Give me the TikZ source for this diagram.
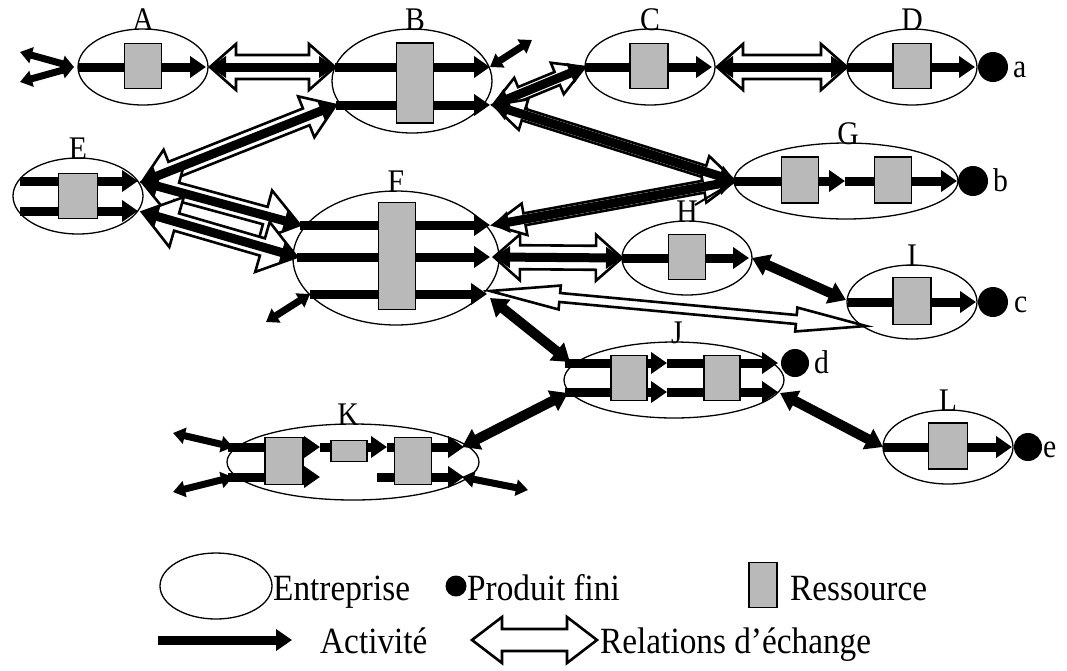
\documentclass[tikz,border=0pt]{standalone}
\usepackage{fontspec}
\setmainfont{Liberation Serif}
\newfontfamily\legfont{Liberation Serif}[FakeStretch=0.9]
\usetikzlibrary{shapes.geometric,arrows.meta,calc}
\tikzset{
  ent/.style={ellipse, draw, line width=1.3pt, inner sep=0pt},
  res/.style={rectangle, draw, fill=gray!55, line width=1.6pt, inner sep=0pt},
  pf/.style={circle, fill=black, inner sep=0pt},
  act/.style={line width=9pt, >={Triangle[length=16pt,width=21pt]}, ->},
  actd/.style={act, <->},
  acts/.style={line width=7pt, >={Triangle[length=12pt,width=16pt]}, <->},
  actb/.style={line width=10pt, >={Triangle[length=17pt,width=22pt]}, <->},
  xchs/.style={draw=black, fill=white, line width=2.6pt, line join=miter},
  lab/.style={font=\legfont\fontsize{33}{33}\selectfont, inner sep=0pt, anchor=base},
  pl/.style={font=\legfont\fontsize{33}{33}\selectfont, inner sep=0pt, anchor=base west},
  leg/.style={font=\legfont\fontsize{37}{37}\selectfont, inner sep=0pt, anchor=base west},
  thin/.style={line width=2pt},
}
% hollow double arrow: from, to, shaft half width, head half width, head length
\newcommand\xch[5]{%
  \draw[xchs] (#1)
    -- ($($(#1)!#5!(#2)$)!#4!90:(#2)$)
    -- ($($(#1)!#5!(#2)$)!#3!90:(#2)$)
    -- ($($(#2)!#5!(#1)$)!#3!90:(#2)$)
    -- ($($(#2)!#5!(#1)$)!#4!90:(#2)$)
    -- (#2)
    -- ($($(#2)!#5!(#1)$)!#4!-90:(#2)$)
    -- ($($(#2)!#5!(#1)$)!#3!-90:(#2)$)
    -- ($($(#1)!#5!(#2)$)!#3!-90:(#2)$)
    -- ($($(#1)!#5!(#2)$)!#4!-90:(#2)$)
    -- cycle;}
\begin{document}
\begin{tikzpicture}[x=1pt,y=-1pt]
\useasboundingbox (0,0) rectangle (1067,670);

% ---------- enterprises ----------
\node[ent, minimum width=130pt, minimum height=76pt] (A) at (143,67) {};
\node[ent, minimum width=160pt, minimum height=104pt] (B) at (412,81) {};
\node[ent, minimum width=130pt, minimum height=76pt] (C) at (650,67) {};
\node[ent, minimum width=130pt, minimum height=76pt] (D) at (912,67) {};
\node[ent, minimum width=130pt, minimum height=76pt] (E) at (78,196) {};
\node[ent, minimum width=206pt, minimum height=134pt] (F) at (396,258) {};
\node[ent, minimum width=224pt, minimum height=76pt] (G) at (846,181) {};
\node[ent, minimum width=130pt, minimum height=74pt] (H) at (687,258) {};
\node[ent, minimum width=130pt, minimum height=74pt] (I) at (912,302) {};
\node[ent, minimum width=220pt, minimum height=76pt] (J) at (674,380) {};
\node[ent, minimum width=252pt, minimum height=76pt] (K) at (353,462) {};
\node[ent, minimum width=130pt, minimum height=74pt] (L) at (948,447) {};

% ---------- ports ----------
\coordinate (Al) at (78,67);   \coordinate (Ar) at (206,67);
\coordinate (Ax1) at (20,52);  \coordinate (Ax2) at (20,82);  \coordinate (Aj) at (74,67);
\coordinate (ABa) at (210,67); \coordinate (ABb) at (335,67);
\coordinate (B1l) at (335,67); \coordinate (B1r) at (490,67);
\coordinate (B2l) at (336,105);\coordinate (B2r) at (490,105);
\coordinate (Bx) at (532,40);  \coordinate (B2o) at (493,105);
\coordinate (Cl) at (585,67);  \coordinate (Cr) at (712,67);
\coordinate (CDa) at (717,67); \coordinate (CDb) at (847,67);
\coordinate (Dl) at (847,67);  \coordinate (Dr) at (975,67);
\coordinate (E1l) at (20,181); \coordinate (E1r) at (138,181);
\coordinate (E2l) at (20,211); \coordinate (E2r) at (138,211);
\coordinate (E1o) at (142,182);\coordinate (E2o) at (142,212);
\coordinate (F1l) at (300,225);\coordinate (F1r) at (490,225);
\coordinate (F2l) at (297,257);\coordinate (F2r) at (490,257);
\coordinate (F3l) at (310,294);\coordinate (F3r) at (487,294);
\coordinate (F1o) at (493,225);\coordinate (F2o) at (494,257);
\coordinate (F3o) at (490,291);\coordinate (F3j) at (490,298);
\coordinate (Fx) at (266,322);
\coordinate (Gl) at (735,181); \coordinate (Gm) at (845,181); \coordinate (Gr) at (957,181);
\coordinate (Hl) at (622,258); \coordinate (Hr) at (749,258);
\coordinate (Ho) at (752,258);
\coordinate (Il) at (848,302); \coordinate (Ir) at (976,302);
\coordinate (Iin) at (846,300);\coordinate (Io) at (866,326);
\coordinate (J1l) at (565,363);\coordinate (J1m) at (667,363);\coordinate (J1r) at (778,363);
\coordinate (J2l) at (565,392);\coordinate (J2m) at (667,392);\coordinate (J2r) at (778,392);
\coordinate (J1o) at (570,362);\coordinate (J2o) at (568,393);\coordinate (J2e) at (780,393);
\coordinate (K1l) at (228,447);\coordinate (K1a) at (320,447);\coordinate (K1b) at (387,447);\coordinate (K1r) at (464,447);
\coordinate (K2l) at (228,477);\coordinate (K2a) at (320,477);\coordinate (K2s) at (377,477);\coordinate (K2r) at (464,477);
\coordinate (K1o) at (462,447);
\coordinate (Kx1) at (173,433); \coordinate (Kx2) at (173,492); \coordinate (Kx3) at (528,490);
\coordinate (K1j) at (233,447); \coordinate (K2j) at (233,477); \coordinate (K2o) at (462,477);
\coordinate (Ll) at (883,447); \coordinate (Lr) at (1012,447);

% ---------- exchange relations ----------
\xch{ABa}{ABb}{12pt}{23pt}{26pt}
\xch{CDa}{CDb}{12pt}{23pt}{26pt}
\xch{F2o}{Hl}{12pt}{23pt}{26pt}
\xch{E1o}{B2l}{9pt}{22pt}{32pt}
\xch{E1o}{F1l}{9pt}{26pt}{36pt}
\xch{E2o}{F2l}{9pt}{26pt}{36pt}
\xch{B2o}{Cl}{7pt}{17pt}{30pt}
\xch{B2o}{Gl}{6pt}{16pt}{32pt}
\xch{Gl}{F1o}{6pt}{16pt}{32pt}
\xch{Io}{F3o}{4.5pt}{12pt}{70pt}
\draw[thin] (695,205) -- (Gl);

% ---------- activities ----------
\draw[act] (Al) -- (Ar);
\draw[acts] (Ax1) -- (Aj);
\draw[acts] (Ax2) -- (Aj);
\draw[actd] (ABa) -- (ABb);
\draw[act] (B1l) -- (B1r);
\draw[act] (B2l) -- (B2r);
\draw[acts] (B1r) -- (Bx);
\draw[act] (Cl) -- (Cr);
\draw[actd] (CDa) -- (CDb);
\draw[act] (Dl) -- (Dr);
\draw[act] (E1l) -- (E1r);
\draw[act] (E2l) -- (E2r);
\draw[actd] (E1o) -- (B2l);
\draw[actd] (E1o) -- (F1l);
\draw[actd] (E2o) -- (F2l);
\draw[actd] (B2o) -- (Cl);
\draw[actd] (B2o) -- (Gl);
\draw[actd] (Gl) -- (F1o);
\draw[act] (F1l) -- (F1r);
\draw[act] (F2l) -- (F2r);
\draw[act] (F3l) -- (F3r);
\draw[acts] (F3l) -- (Fx);
\draw[actd] (F2o) -- (Hl);
\draw[act] (Gl) -- (Gm);
\draw[act] (Gm) -- (Gr);
\draw[act] (Hl) -- (Hr);
\draw[actb] (Ho) -- (Iin);
\draw[act] (Il) -- (Ir);
\draw[actb] (F3j) -- (J1o);
\draw[act] (J1l) -- (J1m);
\draw[act] (J1m) -- (J1r);
\draw[act] (J2l) -- (J2m);
\draw[act] (J2m) -- (J2r);
\draw[actb] (J2o) -- (K1o);
\draw[actb] (J2e) -- (Ll);
\draw[act] (Ll) -- (Lr);
\draw[act] (K1l) -- (K1a);
\draw[act] (K1a) -- (K1b);
\draw[act] (K1b) -- (K1r);
\draw[act] (K2l) -- (K2a);
\draw[act] (K2s) -- (K2r);
\draw[acts] (Kx1) -- (K1j);
\draw[acts] (Kx2) -- (K2j);
\draw[acts] (K2o) -- (Kx3);

% ---------- resources ----------
\node[res, minimum width=37pt, minimum height=45pt] (rA) at (143,66) {};
\node[res, minimum width=37pt, minimum height=80pt] (rB) at (415,83) {};
\node[res, minimum width=38pt, minimum height=45pt] (rC) at (649,66) {};
\node[res, minimum width=38pt, minimum height=45pt] (rD) at (912,66) {};
\node[res, minimum width=39pt, minimum height=45pt] (rE) at (78,196) {};
\node[res, minimum width=37pt, minimum height=107pt] (rF) at (397,256) {};
\node[res, minimum width=37pt, minimum height=46pt] (rG1) at (800,180) {};
\node[res, minimum width=37pt, minimum height=46pt] (rG2) at (893,180) {};
\node[res, minimum width=37pt, minimum height=45pt] (rH) at (687,257) {};
\node[res, minimum width=38pt, minimum height=47pt] (rI) at (912,301) {};
\node[res, minimum width=36pt, minimum height=45pt] (rJ1) at (629,378) {};
\node[res, minimum width=36pt, minimum height=45pt] (rJ2) at (722,378) {};
\node[res, minimum width=38pt, minimum height=47pt] (rK1) at (284,461) {};
\node[res, minimum width=36pt, minimum height=21pt] (rK2) at (349,451) {};
\node[res, minimum width=37pt, minimum height=47pt] (rK3) at (413,461) {};
\node[res, minimum width=39pt, minimum height=46pt] (rL) at (948,446) {};

% ---------- finished products ----------
\node[pf, minimum size=30pt] (pa) at (993,67) {};
\node[pf, minimum size=30pt] (pb) at (973,181) {};
\node[pf, minimum size=30pt] (pc) at (993,302) {};
\node[pf, minimum size=28pt] (pd) at (795,363) {};
\node[pf, minimum size=28pt] (pe) at (1028,447) {};
\node[pl] (ta) at (1013,77) {a};
\node[pl] (tb) at (993,191) {b};
\node[pl] (tc) at (1014,312) {c};
\node[pl] (td) at (814,373) {d};
\node[pl] (te) at (1043,457) {e};

% ---------- enterprise labels ----------
\node[lab] (lA) at (143,30) {A};
\node[lab] (lB) at (415,30) {B};
\node[lab] (lC) at (650,30) {C};
\node[lab] (lD) at (912,30) {D};
\node[lab] (lE) at (78,159) {E};
\node[lab] (lF) at (396,192) {F};
\node[lab] (lG) at (848,144) {G};
\node[lab] (lH) at (687,222) {H};
\node[lab] (lI) at (912,266) {I};
\node[lab] (lJ) at (677,343) {J};
\node[lab] (lK) at (348,425) {K};
\node[lab] (lL) at (948,411) {L};

% ---------- legend ----------
\node[ent, minimum width=112pt, minimum height=66pt] (gE) at (216,586) {};
\node[leg] (gEt) at (273,600) {Entreprise};
\node[pf, minimum size=21pt] (gP) at (456,586) {};
\node[leg] (gPt) at (467,600) {Produit fini};
\node[res, minimum width=28pt, minimum height=45pt] (gR) at (763,585) {};
\node[leg] (gRt) at (790,600) {Ressource};
\coordinate (gA1) at (158,640); \coordinate (gA2) at (292,640);
\draw[act] (gA1) -- (gA2);
\node[leg] (gAt) at (320,653) {Activité};
\coordinate (gX1) at (472,640); \coordinate (gX2) at (597,640);
\xch{gX1}{gX2}{11pt}{23pt}{30pt}
\node[leg] (gXt) at (600,653) {Relations d’échange};
\end{tikzpicture}
\end{document}
